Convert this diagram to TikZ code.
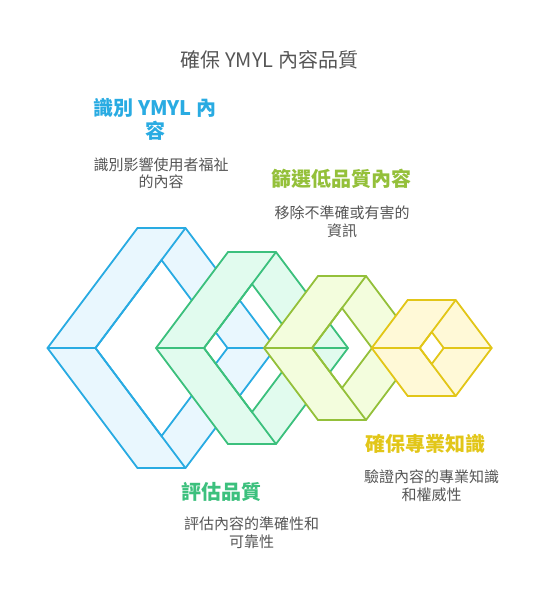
\documentclass[tikz,border=0pt]{standalone}
\usepackage{fontspec}
\setmainfont{Noto Sans CJK TC}
\definecolor{cblue}{RGB}{41,171,226}
\definecolor{fblue}{RGB}{233,247,254}
\definecolor{cgreen}{RGB}{60,192,125}
\definecolor{fgreen}{RGB}{225,251,238}
\definecolor{clime}{RGB}{148,192,58}
\definecolor{flime}{RGB}{243,253,221}
\definecolor{cyel}{RGB}{226,198,24}
\definecolor{fyel}{RGB}{255,249,215}
\definecolor{tgray}{RGB}{85,85,85}
\newcommand{\hexring}[5]{% cx, cy, H, stroke, fill
  \pgfmathsetmacro{\hW}{24+0.75*#3}%
  \pgfmathsetmacro{\hw}{\hW-48}%
  \pgfmathsetmacro{\hh}{#3-32}%
  \coordinate (L) at ({#1-\hW},#2);
  \coordinate (TL) at ({#1-24},{#2-#3});
  \coordinate (TR) at ({#1+24},{#2-#3});
  \coordinate (R) at ({#1+\hW},#2);
  \coordinate (BR) at ({#1+24},{#2+#3});
  \coordinate (BL) at ({#1-24},{#2+#3});
  \coordinate (hL) at ({#1-\hw},#2);
  \coordinate (hT) at (#1,{#2-\hh});
  \coordinate (hR) at ({#1+\hw},#2);
  \coordinate (hB) at (#1,{#2+\hh});
  \fill[#5,even odd rule] (L) -- (TL) -- (TR) -- (R) -- (BR) -- (BL) -- cycle
     (hL) -- (hT) -- (hR) -- (hB) -- cycle;
  \draw[#4,ringline] (L) -- (TL) -- (TR) -- (R) -- (BR) -- (BL) -- cycle;
  \draw[#4,ringline] (hL) -- (hT) -- (hR) -- (hB) -- cycle;
  \draw[#4,ringline] (TR) -- (hL) -- (BR);
  \draw[#4,ringline] (L) -- (hL);
  \draw[#4,ringline] (hR) -- (R);
}
\tikzset{
  ringline/.style={line width=1.8pt,line join=miter},
  head/.style={font=\fontsize{20}{23}\selectfont\bfseries,align=center,inner sep=0pt},
  desc/.style={font=\fontsize{15}{17.5}\selectfont,text=tgray,align=center,inner sep=0pt}
}
\begin{document}
\begin{tikzpicture}[x=1pt,y=-1pt]
\useasboundingbox (0,0) rectangle (540,600);
\hexring{161.5}{348}{120}{cblue}{fblue}
\hexring{252}{348}{96}{cgreen}{fgreen}
\hexring{342}{348}{72}{clime}{flime}
\hexring{431.7}{348}{48}{cyel}{fyel}
\node[font=\fontsize{20}{24}\selectfont,text=tgray,inner sep=0pt] (title) at (269.5,59.5) {確保 YMYL 內容品質};
\node[head,text=cblue] (h1) at (155,119.5) {識別 YMYL 內\\容};
\node[desc] (d1) at (161,173) {識別影響使用者福祉\\的內容};
\node[head,text=clime] (h2) at (341.5,179) {篩選低品質內容};
\node[desc] (d2) at (342,221.5) {移除不準確或有害的\\資訊};
\node[head,text=cyel] (h3) at (425.5,444) {確保專業知識};
\node[desc] (d3) at (431.7,485.7) {驗證內容的專業知識\\和權威性};
\node[head,text=cgreen] (h4) at (221.7,492) {評估品質};
\node[desc] (d4) at (251.7,533) {評估內容的準確性和\\可靠性};
\end{tikzpicture}
\end{document}
